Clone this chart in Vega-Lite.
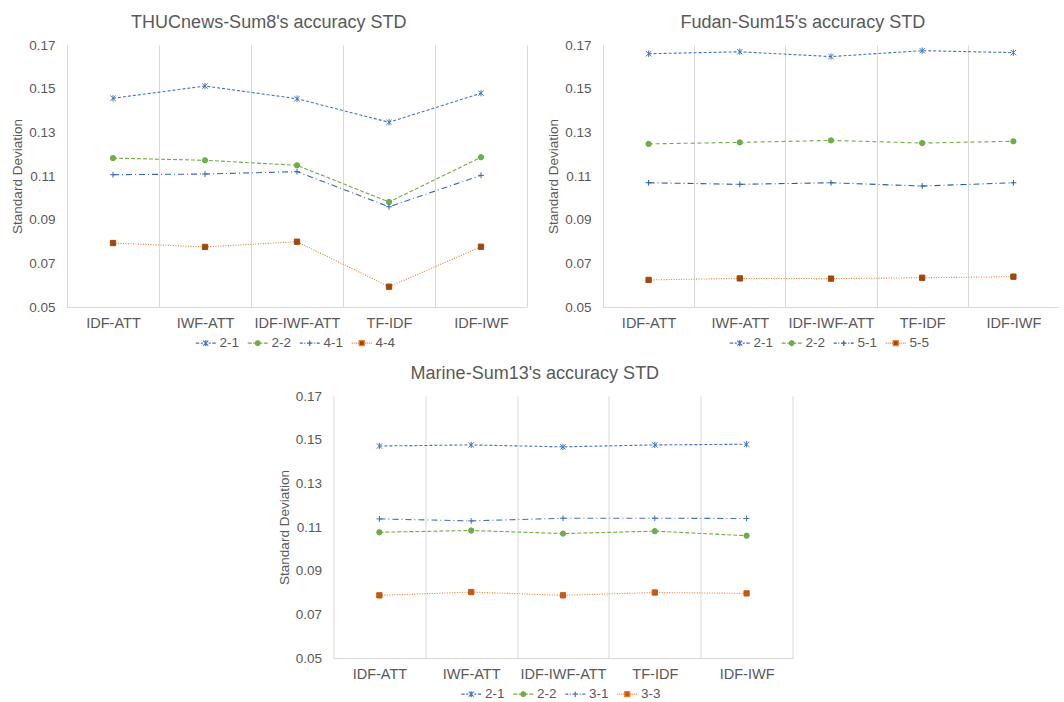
{
  "$schema": "https://vega.github.io/schema/vega-lite/v6.json",
  "padding": {"left": 10, "top": 14, "right": 0, "bottom": 0},
  "background": "white",
  "config": {
    "font": "Liberation Sans",
    "view": {"stroke": null},
    "title": {"fontSize": 18, "fontWeight": "normal", "color": "#595959", "anchor": "middle", "frame": "bounds", "offset": 6},
    "axisX": {"domain": true, "domainColor": "#D9D9D9", "ticks": false, "grid": true, "gridColor": "#D9D9D9", "tickBand": "extent", "labelColor": "#595959", "labelFontSize": 14.5, "labelPadding": 9, "labelAngle": 0, "title": null},
    "axisY": {"domain": false, "ticks": false, "grid": false, "labelColor": "#595959", "labelFontSize": 13.5, "labelPadding": 12, "titleColor": "#595959", "titleFontSize": 13.5, "titleFontWeight": "normal", "titlePadding": 4},
    "legend": {"orient": "bottom", "direction": "horizontal", "title": null, "labelColor": "#595959", "labelFontSize": 13.5, "symbolSize": 100, "labelOffset": 7, "columnPadding": 5, "offset": 6, "layout": {"bottom": {"anchor": "middle"}}}
  },
  "datasets": {
    "thuc": [
      {"method": "IDF-ATT", "series": "2-1", "std": 0.1456},
      {"method": "IWF-ATT", "series": "2-1", "std": 0.1512},
      {"method": "IDF-IWF-ATT", "series": "2-1", "std": 0.1454},
      {"method": "TF-IDF", "series": "2-1", "std": 0.1346},
      {"method": "IDF-IWF", "series": "2-1", "std": 0.1479},
      {"method": "IDF-ATT", "series": "2-2", "std": 0.1182},
      {"method": "IWF-ATT", "series": "2-2", "std": 0.1172},
      {"method": "IDF-IWF-ATT", "series": "2-2", "std": 0.1149},
      {"method": "TF-IDF", "series": "2-2", "std": 0.0981},
      {"method": "IDF-IWF", "series": "2-2", "std": 0.1186},
      {"method": "IDF-ATT", "series": "4-1", "std": 0.1106},
      {"method": "IWF-ATT", "series": "4-1", "std": 0.1109},
      {"method": "IDF-IWF-ATT", "series": "4-1", "std": 0.1120},
      {"method": "TF-IDF", "series": "4-1", "std": 0.0959},
      {"method": "IDF-IWF", "series": "4-1", "std": 0.1103},
      {"method": "IDF-ATT", "series": "4-4", "std": 0.0793},
      {"method": "IWF-ATT", "series": "4-4", "std": 0.0775},
      {"method": "IDF-IWF-ATT", "series": "4-4", "std": 0.0799},
      {"method": "TF-IDF", "series": "4-4", "std": 0.0593},
      {"method": "IDF-IWF", "series": "4-4", "std": 0.0776}
    ],
    "fudan": [
      {"method": "IDF-ATT", "series": "2-1", "std": 0.1660},
      {"method": "IWF-ATT", "series": "2-1", "std": 0.1669},
      {"method": "IDF-IWF-ATT", "series": "2-1", "std": 0.1647},
      {"method": "TF-IDF", "series": "2-1", "std": 0.1674},
      {"method": "IDF-IWF", "series": "2-1", "std": 0.1665},
      {"method": "IDF-ATT", "series": "2-2", "std": 0.1247},
      {"method": "IWF-ATT", "series": "2-2", "std": 0.1254},
      {"method": "IDF-IWF-ATT", "series": "2-2", "std": 0.1263},
      {"method": "TF-IDF", "series": "2-2", "std": 0.1251},
      {"method": "IDF-IWF", "series": "2-2", "std": 0.1259},
      {"method": "IDF-ATT", "series": "5-1", "std": 0.1069},
      {"method": "IWF-ATT", "series": "5-1", "std": 0.1062},
      {"method": "IDF-IWF-ATT", "series": "5-1", "std": 0.1069},
      {"method": "TF-IDF", "series": "5-1", "std": 0.1054},
      {"method": "IDF-IWF", "series": "5-1", "std": 0.1069},
      {"method": "IDF-ATT", "series": "5-5", "std": 0.0624},
      {"method": "IWF-ATT", "series": "5-5", "std": 0.0631},
      {"method": "IDF-IWF-ATT", "series": "5-5", "std": 0.0630},
      {"method": "TF-IDF", "series": "5-5", "std": 0.0634},
      {"method": "IDF-IWF", "series": "5-5", "std": 0.0639}
    ],
    "marine": [
      {"method": "IDF-ATT", "series": "2-1", "std": 0.1471},
      {"method": "IWF-ATT", "series": "2-1", "std": 0.1476},
      {"method": "IDF-IWF-ATT", "series": "2-1", "std": 0.1467},
      {"method": "TF-IDF", "series": "2-1", "std": 0.1476},
      {"method": "IDF-IWF", "series": "2-1", "std": 0.1479},
      {"method": "IDF-ATT", "series": "2-2", "std": 0.1076},
      {"method": "IWF-ATT", "series": "2-2", "std": 0.1084},
      {"method": "IDF-IWF-ATT", "series": "2-2", "std": 0.1070},
      {"method": "TF-IDF", "series": "2-2", "std": 0.1081},
      {"method": "IDF-IWF", "series": "2-2", "std": 0.1060},
      {"method": "IDF-ATT", "series": "3-1", "std": 0.1137},
      {"method": "IWF-ATT", "series": "3-1", "std": 0.1128},
      {"method": "IDF-IWF-ATT", "series": "3-1", "std": 0.1140},
      {"method": "TF-IDF", "series": "3-1", "std": 0.1140},
      {"method": "IDF-IWF", "series": "3-1", "std": 0.1139},
      {"method": "IDF-ATT", "series": "3-3", "std": 0.0787},
      {"method": "IWF-ATT", "series": "3-3", "std": 0.0802},
      {"method": "IDF-IWF-ATT", "series": "3-3", "std": 0.0787},
      {"method": "TF-IDF", "series": "3-3", "std": 0.0800},
      {"method": "IDF-IWF", "series": "3-3", "std": 0.0796}
    ]
  },
  "center": true,
  "spacing": 15,
  "resolve": {"scale": {"x": "independent", "y": "independent", "color": "independent"}, "legend": {"color": "independent"}},
  "vconcat": [
    {
      "spacing": 19,
      "resolve": {"scale": {"x": "independent", "y": "independent", "color": "independent"}, "legend": {"color": "independent"}},
      "hconcat": [
        {
          "width": 460, "height": 262,
          "title": "THUCnews-Sum8's accuracy STD",
          "data": {"name": "thuc"},
          "encoding": {
            "x": {"field": "method", "type": "nominal", "sort": ["IDF-ATT", "IWF-ATT", "IDF-IWF-ATT", "TF-IDF", "IDF-IWF"], "scale": {"type": "band", "paddingInner": 0, "paddingOuter": 0}},
            "y": {"field": "std", "type": "quantitative", "scale": {"domain": [0.05, 0.17], "nice": false, "zero": false}, "axis": {"values": [0.05, 0.07, 0.09, 0.11, 0.13, 0.15, 0.17], "format": ".2f", "title": "Standard Deviation"}}
          },
          "layer": [
            {
              "mark": {"type": "line", "strokeWidth": 1.1},
              "encoding": {
                "color": {"field": "series", "type": "nominal", "scale": {"domain": ["2-1", "2-2", "4-1", "4-4"], "range": ["#4472C4", "#70AD47", "#3A66B5", "#ED7D31"]},
                  "legend": {"encode": {"symbols": {"update": {
                    "shape": {"signal": "datum.value==='2-1'?'M-2,0L-1.3,0M-1,0L-0.6,0M0.6,0L1,0M1.3,0L2,0M-0.5,-0.5L0.5,0.5M-0.5,0.5L0.5,-0.5M0,-0.6L0,0.6':datum.value==='2-2'?'M-2,0L-1.2,0M-0.9,0L-0.55,0M0.55,0L0.9,0M1.2,0L2,0M0.5,0L0.354,0.354L0,0.5L-0.354,0.354L-0.5,0L-0.354,-0.354L0,-0.5L0.354,-0.354Z':datum.value==='4-1'?'M-2,0L-1.4,0M-1.1,0L-0.9,0M0.9,0L1.1,0M1.4,0L2,0M-0.55,0L0.55,0M0,-0.55L0,0.55':'M-2,0L-1.8,0M-1.6,0L-1.4,0M-1.2,0L-1,0M-0.8,0L-0.6,0M0.6,0L0.8,0M1,0L1.2,0M1.4,0L1.6,0M1.8,0L2,0M-0.5,-0.5L0.5,-0.5L0.5,0.5L-0.5,0.5Z'"},
                    "stroke": {"signal": "datum.value==='2-1'?'#4472C4':datum.value==='2-2'?'#70AD47':datum.value==='4-1'?'#3A66B5':'#ED7D31'"},
                    "fill": {"signal": "datum.value==='2-1'?'#4472C4':datum.value==='2-2'?'#70AD47':datum.value==='4-1'?'#3A66B5':'#9E480E'"},
                    "size": {"value": 100},
                    "strokeWidth": {"value": 1.2},
                    "opacity": {"value": 1}
                  }}}}},
                "strokeDash": {"condition": [{"test": "datum.series==='2-1'", "value": [3, 2]}, {"test": "datum.series==='2-2'", "value": [4, 2]}, {"test": "datum.series==='4-1'", "value": [6, 3, 1, 3]}], "value": [1, 1.5]}
              }
            },
            {
              "mark": {"type": "point", "filled": true, "opacity": 1, "size": 28, "strokeWidth": 1},
              "encoding": {
                "shape": {"condition": [{"test": "datum.series==='2-1'", "value": "M-1,-1L1,1M-1,1L1,-1M0,-1.2V1.2"}, {"test": "datum.series==='2-2'", "value": "circle"}, {"test": "datum.series==='4-1'", "value": "M-1.1,0H1.1M0,-1.1V1.1"}], "value": "square"},
                "fill": {"condition": [{"test": "datum.series==='2-1'", "value": "#4472C4"}, {"test": "datum.series==='2-2'", "value": "#70AD47"}, {"test": "datum.series==='4-1'", "value": "#3A66B5"}], "value": "#9E480E"},
                "stroke": {"condition": [{"test": "datum.series==='2-1'", "value": "#4472C4"}, {"test": "datum.series==='2-2'", "value": "#70AD47"}, {"test": "datum.series==='4-1'", "value": "#3A66B5"}], "value": "#9E480E"}
              }
            }
          ]
        },
        {
          "width": 456, "height": 262,
          "title": "Fudan-Sum15's accuracy STD",
          "data": {"name": "fudan"},
          "encoding": {
            "x": {"field": "method", "type": "nominal", "sort": ["IDF-ATT", "IWF-ATT", "IDF-IWF-ATT", "TF-IDF", "IDF-IWF"], "scale": {"type": "band", "paddingInner": 0, "paddingOuter": 0}},
            "y": {"field": "std", "type": "quantitative", "scale": {"domain": [0.05, 0.17], "nice": false, "zero": false}, "axis": {"values": [0.05, 0.07, 0.09, 0.11, 0.13, 0.15, 0.17], "format": ".2f", "title": "Standard Deviation"}}
          },
          "layer": [
            {
              "mark": {"type": "line", "strokeWidth": 1.1},
              "encoding": {
                "color": {"field": "series", "type": "nominal", "scale": {"domain": ["2-1", "2-2", "5-1", "5-5"], "range": ["#4472C4", "#70AD47", "#2A5FA5", "#ED7D31"]},
                  "legend": {"encode": {"symbols": {"update": {
                    "shape": {"signal": "datum.value==='2-1'?'M-2,0L-1.3,0M-1,0L-0.6,0M0.6,0L1,0M1.3,0L2,0M-0.5,-0.5L0.5,0.5M-0.5,0.5L0.5,-0.5M0,-0.6L0,0.6':datum.value==='2-2'?'M-2,0L-1.2,0M-0.9,0L-0.55,0M0.55,0L0.9,0M1.2,0L2,0M0.5,0L0.354,0.354L0,0.5L-0.354,0.354L-0.5,0L-0.354,-0.354L0,-0.5L0.354,-0.354Z':datum.value==='5-1'?'M-2,0L-1.4,0M-1.1,0L-0.9,0M0.9,0L1.1,0M1.4,0L2,0M-0.55,0L0.55,0M0,-0.55L0,0.55':'M-2,0L-1.8,0M-1.6,0L-1.4,0M-1.2,0L-1,0M-0.8,0L-0.6,0M0.6,0L0.8,0M1,0L1.2,0M1.4,0L1.6,0M1.8,0L2,0M-0.5,-0.5L0.5,-0.5L0.5,0.5L-0.5,0.5Z'"},
                    "stroke": {"signal": "datum.value==='2-1'?'#4472C4':datum.value==='2-2'?'#70AD47':datum.value==='5-1'?'#2A5FA5':'#ED7D31'"},
                    "fill": {"signal": "datum.value==='2-1'?'#4472C4':datum.value==='2-2'?'#70AD47':datum.value==='5-1'?'#2A5FA5':'#9E480E'"},
                    "size": {"value": 100},
                    "strokeWidth": {"value": 1.2},
                    "opacity": {"value": 1}
                  }}}}},
                "strokeDash": {"condition": [{"test": "datum.series==='2-1'", "value": [3, 2]}, {"test": "datum.series==='2-2'", "value": [4, 3]}, {"test": "datum.series==='5-1'", "value": [6, 3, 1, 3]}], "value": [1, 1.5]}
              }
            },
            {
              "mark": {"type": "point", "filled": true, "opacity": 1, "size": 28, "strokeWidth": 1},
              "encoding": {
                "shape": {"condition": [{"test": "datum.series==='2-1'", "value": "M-1,-1L1,1M-1,1L1,-1M0,-1.2V1.2"}, {"test": "datum.series==='2-2'", "value": "circle"}, {"test": "datum.series==='5-1'", "value": "M-1.1,0H1.1M0,-1.1V1.1"}], "value": "square"},
                "fill": {"condition": [{"test": "datum.series==='2-1'", "value": "#4472C4"}, {"test": "datum.series==='2-2'", "value": "#70AD47"}, {"test": "datum.series==='5-1'", "value": "#2A5FA5"}], "value": "#9E480E"},
                "stroke": {"condition": [{"test": "datum.series==='2-1'", "value": "#4472C4"}, {"test": "datum.series==='2-2'", "value": "#70AD47"}, {"test": "datum.series==='5-1'", "value": "#2A5FA5"}], "value": "#9E480E"}
              }
            }
          ]
        }
      ]
    },
    {
      "width": 459, "height": 262,
      "title": "Marine-Sum13's accuracy STD",
      "data": {"name": "marine"},
      "encoding": {
        "x": {"field": "method", "type": "nominal", "sort": ["IDF-ATT", "IWF-ATT", "IDF-IWF-ATT", "TF-IDF", "IDF-IWF"], "scale": {"type": "band", "paddingInner": 0, "paddingOuter": 0}},
        "y": {"field": "std", "type": "quantitative", "scale": {"domain": [0.05, 0.17], "nice": false, "zero": false}, "axis": {"values": [0.05, 0.07, 0.09, 0.11, 0.13, 0.15, 0.17], "format": ".2f", "title": "Standard Deviation"}}
      },
      "layer": [
        {
          "mark": {"type": "line", "strokeWidth": 1.1},
          "encoding": {
            "color": {"field": "series", "type": "nominal", "scale": {"domain": ["2-1", "2-2", "3-1", "3-3"], "range": ["#4472C4", "#70AD47", "#4472C4", "#ED7D31"]},
              "legend": {"encode": {"symbols": {"update": {
                "shape": {"signal": "datum.value==='2-1'?'M-2,0L-1.3,0M-1,0L-0.6,0M0.6,0L1,0M1.3,0L2,0M-0.5,-0.5L0.5,0.5M-0.5,0.5L0.5,-0.5M0,-0.6L0,0.6':datum.value==='2-2'?'M-2,0L-1.2,0M-0.9,0L-0.55,0M0.55,0L0.9,0M1.2,0L2,0M0.5,0L0.354,0.354L0,0.5L-0.354,0.354L-0.5,0L-0.354,-0.354L0,-0.5L0.354,-0.354Z':datum.value==='3-1'?'M-2,0L-1.4,0M-1.1,0L-0.9,0M0.9,0L1.1,0M1.4,0L2,0M-0.55,0L0.55,0M0,-0.55L0,0.55':'M-2,0L-1.8,0M-1.6,0L-1.4,0M-1.2,0L-1,0M-0.8,0L-0.6,0M0.6,0L0.8,0M1,0L1.2,0M1.4,0L1.6,0M1.8,0L2,0M-0.5,-0.5L0.5,-0.5L0.5,0.5L-0.5,0.5Z'"},
                "stroke": {"signal": "datum.value==='2-1'?'#4472C4':datum.value==='2-2'?'#70AD47':datum.value==='3-1'?'#4472C4':'#ED7D31'"},
                "fill": {"signal": "datum.value==='2-1'?'#4472C4':datum.value==='2-2'?'#70AD47':datum.value==='3-1'?'#4472C4':'#C55A11'"},
                "size": {"value": 100},
                "strokeWidth": {"value": 1.2},
                "opacity": {"value": 1}
              }}}}},
            "strokeDash": {"condition": [{"test": "datum.series==='2-1'", "value": [3, 2]}, {"test": "datum.series==='2-2'", "value": [4, 2]}, {"test": "datum.series==='3-1'", "value": [6, 3, 1, 3]}], "value": [1, 1.5]}
          }
        },
        {
          "mark": {"type": "point", "filled": true, "opacity": 1, "size": 28, "strokeWidth": 1},
          "encoding": {
            "shape": {"condition": [{"test": "datum.series==='2-1'", "value": "M-1,-1L1,1M-1,1L1,-1M0,-1.2V1.2"}, {"test": "datum.series==='2-2'", "value": "circle"}, {"test": "datum.series==='3-1'", "value": "M-1.1,0H1.1M0,-1.1V1.1"}], "value": "square"},
            "fill": {"condition": [{"test": "datum.series==='2-1'", "value": "#4472C4"}, {"test": "datum.series==='2-2'", "value": "#70AD47"}, {"test": "datum.series==='3-1'", "value": "#4472C4"}], "value": "#C55A11"},
            "stroke": {"condition": [{"test": "datum.series==='2-1'", "value": "#4472C4"}, {"test": "datum.series==='2-2'", "value": "#70AD47"}, {"test": "datum.series==='3-1'", "value": "#4472C4"}], "value": "#C55A11"}
          }
        }
      ]
    }
  ]
}
